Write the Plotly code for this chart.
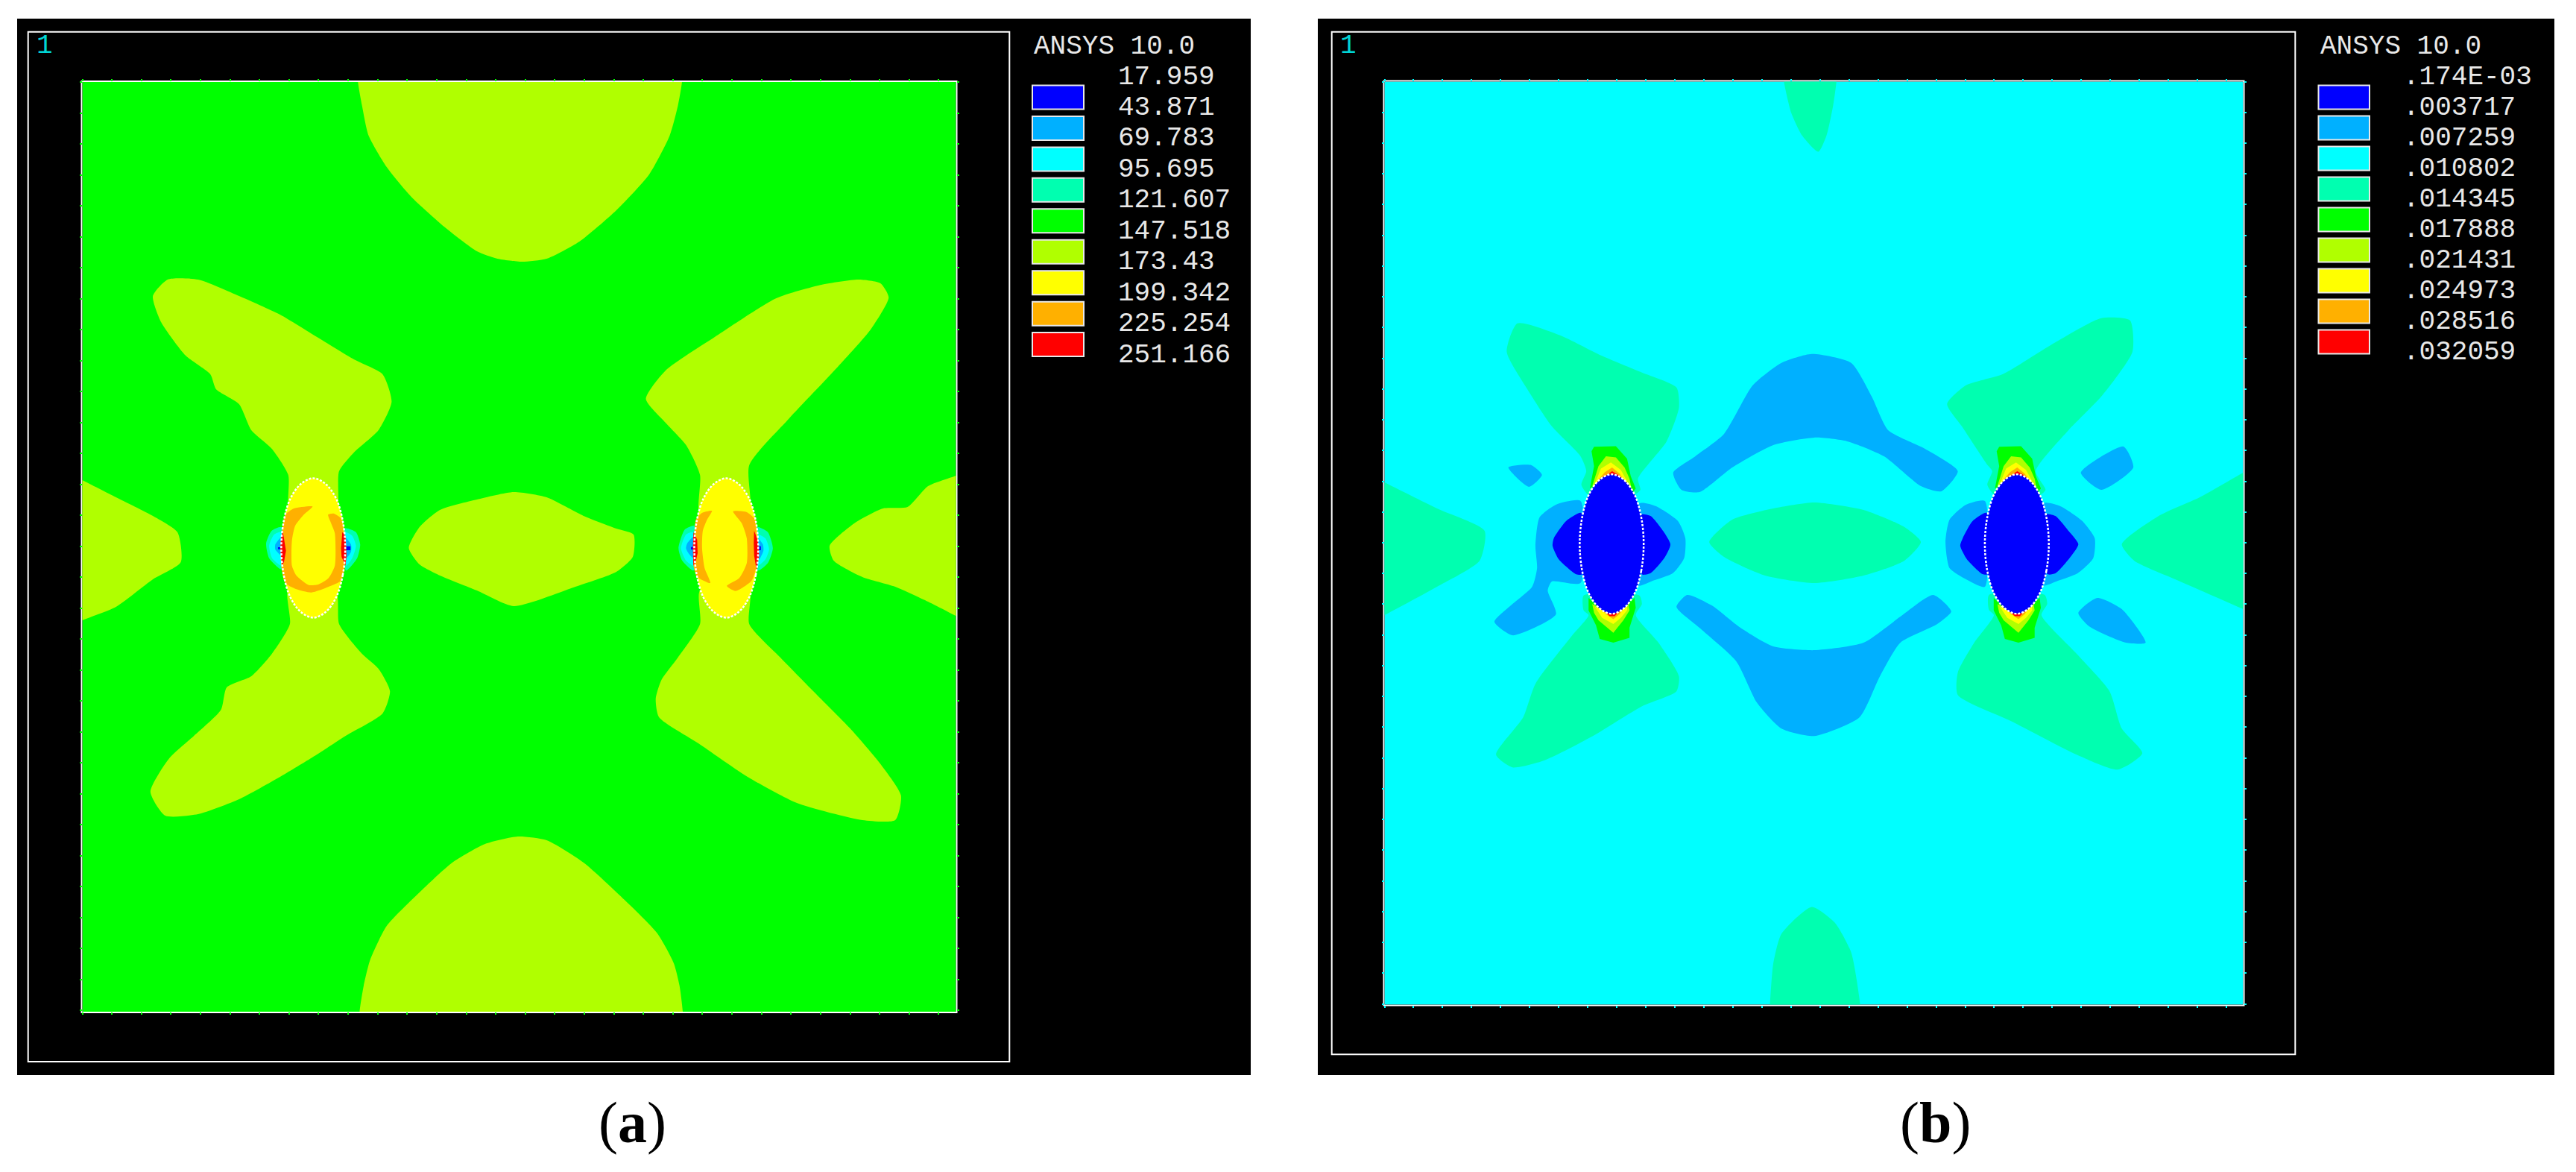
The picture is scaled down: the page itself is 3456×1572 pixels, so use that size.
import plotly.graph_objects as go

W, H = 3456, 1572

LEVEL_COLORS = ["#0000FF", "#00B0FF", "#00FFFF", "#00FFB0", "#00FF00",
                "#B0FF00", "#FFFF00", "#FFB000", "#FF0000"]
BLUE, SKY, CYAN, MINT, GREEN, LIME, YELLOW, ORANGE, RED = LEVEL_COLORS

A_LABELS = ["17.959", "43.871", "69.783", "95.695", "121.607",
            "147.518", "173.43", "199.342", "225.254", "251.166"]
B_LABELS = [".174E-03", ".003717", ".007259", ".010802", ".014345",
            ".017888", ".021431", ".024973", ".028516", ".032059"]

# ---- panel (a): contour bands, model coordinates
A_TOP = [(434,70),(435,108),(440,140),(448,180),(470,222),(500,262),(540,302),(580,335),(605,345),(635,349),(665,345),(705,322),(750,280),(790,232),(815,180),(825,140),(830,108),(831,70)]
A_BOTTOM = [(436,1395),(437,1355),(442,1320),(450,1285),(470,1240),(510,1195),(550,1155),(590,1130),(630,1120),(665,1125),(710,1155),(760,1205),(800,1250),(820,1290),(827,1320),(831,1355),(832,1395)]
A_UL = [(185,395),(203,373),(240,373),(290,395),(340,420),(385,450),(430,480),(465,500),(476,537),(460,575),(430,605),(412,630),(408,690),(352,690),(350,635),(330,600),(305,575),(290,540),(262,520),(255,500),(225,475),(195,430)]
A_LL = [(350,790),(352,835),(330,875),(305,905),(275,920),(268,950),(235,985),(205,1015),(182,1060),(200,1092),(240,1090),(290,1070),(340,1040),(385,1010),(420,985),(465,955),(474,925),(460,895),(440,875),(412,835),(408,790)]
A_UR = [(786,533),(810,495),(870,450),(945,398),(1000,380),(1045,373),(1072,378),(1082,397),(1060,440),(1020,490),(960,560),(912,622),(912,690),(852,690),(852,635),(835,595),(810,565)]
A_LR = [(852,790),(852,835),(825,880),(805,910),(798,935),(802,960),(850,995),(910,1040),(970,1075),(1050,1098),(1090,1098),(1097,1065),(1070,1020),(1035,975),(990,925),(950,880),(912,835),(912,790)]
A_CENTER = [(497,733),(510,705),(535,682),(580,668),(625,658),(665,665),(710,690),(750,707),(771,715),(770,745),(750,765),(700,785),(625,811),(580,790),(535,770),(510,755)]
A_LEFT = [(70,625),(99,642),(140,665),(185,690),(215,712),(219,752),(185,775),(140,812),(99,830),(70,845)]
A_RIGHT = [(1195,620),(1164,636),(1130,650),(1105,678),(1075,680),(1040,700),(1010,730),(1015,750),(1050,772),(1090,785),(1130,805),(1164,824),(1195,840)]

HOLE_DX = [39,36,28,15,0,-15,-28,-36,-39,-36,-28,-15,0,15,28,36,39]
HOLE_DY = [0,36,66,86,93.5,86,66,36,0,-36,-66,-86,-93.5,-86,-66,-36,0]

A_HOLE_X = [380.5, 884]
A_HOLE_Y = [733, 733]

# left hole of panel (a)
A1_ORANGE = [(379.6,677.3),(356.9,680),(346.3,688.3),(342.4,710),(341.8,760),(346.3,780),(359.9,788.3),(378.1,792.7),(399.2,785),(414.4,776.7),(418.9,756.7),(417.4,710),(414.4,693.3),(405.3,686.7),(398.6,688.3),(402.3,700),(406.8,713.3),(406.8,756.7),(399.2,773.3),(387.2,781.7),(375,782.7),(359.9,770),(354.5,756.7),(354.5,723.3),(358.4,703.3),(369,688.3)]
A1_RED_L = [(343.3,710),(346.3,733.3),(347.2,736.7),(344.8,751.7),(342.4,756.7),(340.3,733.3),(341.2,720)]
A1_RED_R = [(415.9,711.7),(419.8,716.7),(421,743.3),(419.8,756.7),(415,745),(414.4,733.3)]
A1_HALOS = [
    (MINT, [(341.8,705),(329.7,710),(323,726.7),(326.7,746.7),(341.8,761.7)]),
    (MINT, [(419,706.7),(432.5,711.7),(437.7,728.3),(434,746.7),(420.4,763.3)]),
    (CYAN, [(341.8,711.7),(332.7,715),(326.7,730),(330.3,746.7),(341.8,756.7)]),
    (CYAN, [(419,711.7),(428,716.7),(432.5,730),(428,746.7),(420.4,756.7)]),
    (SKY, [(341.8,718.3),(334.2,728.3),(334.2,735),(341.8,743.3)]),
    (SKY, [(420.4,720),(426.5,728.3),(426.5,738.3),(420.4,746.7)]),
    (BLUE, [(337.5,732),(342.4,732),(342.4,734.7),(337.5,734.7)]),
    (BLUE, [(419.8,730.7),(425.9,730.7),(425.9,736),(419.8,736)]),
]

# right hole of panel (a)
A2_ORANGE_L = [(866.6,683.3),(854.5,686),(847,695),(844.9,716.7),(844,756.7),(848.5,771.7),(864.5,780),(857.6,760),(854.5,733.3),(855.4,710),(860.6,695)]
A2_ORANGE_R = [(892.4,684),(909,685),(918,693.3),(921,710),(921,756.7),(915,776.7),(895.4,790.7),(884.8,784),(899.9,773.3),(909,753.3),(909,720),(903,700)]
A2_RED_L = [(844,711.7),(848.5,721.7),(849.1,740),(847,750),(844,756.7),(843.3,733.3)]
A2_RED_R = [(918,710),(922.6,723.3),(924.1,743.3),(921,763.3),(918,743.3),(917.5,726.7)]
A2_HALOS = [
    (MINT, [(845.5,703.3),(833.4,708.3),(825.8,733.3),(830.3,750),(844,763.3)]),
    (MINT, [(921,705),(934.7,711.7),(940.8,733.3),(934.7,753.3),(922.6,763.3)]),
    (CYAN, [(844,711.7),(834.9,715),(828.8,733.3),(834.9,750),(844,756.7)]),
    (CYAN, [(922.6,715),(931.7,720),(936.2,735),(931.7,748.3),(922.6,756.7)]),
    (SKY, [(844,718.3),(836.4,726.7),(834.9,733.3),(837.9,740),(844,746.7)]),
    (SKY, [(922.6,720),(928.7,728.3),(929.3,736.7),(924.1,748.3)]),
    (BLUE, [(840.9,731.7),(844.6,731.7),(844.6,735),(840.9,735)]),
    (BLUE, [(922.6,730.7),(926.2,730.7),(926.2,736),(922.6,736)]),
]

# ---- panel (b): contour bands, model coordinates
B_TOP = [(600,70),(603,108),(612,150),(625,180),(645,202),(655,180),(663,140),(667,108),(668,70)]
B_BOTTOM = [(584,1385),(586,1345),(590,1290),(600,1250),(637,1214),(665,1235),(685,1275),(696,1345),(698,1385)]
B_LEFT = [(80,625),(116,645),(180,680),(238,710),(232,750),(180,785),(116,823),(80,843)]
B_RIGHT = [(1200,610),(1163,632),(1110,665),(1060,690),(1015,728),(1030,750),(1080,775),(1163,815),(1200,835)]
B_CENTER = [(512,725),(540,695),(590,680),(640,672),(700,682),(750,705),(770,725),(750,750),(700,770),(640,780),(580,770),(530,745)]
B_UL = [(278,432),(330,448),(380,475),(430,498),(472,518),(475,545),(460,590),(425,640),(428,655),(420,662),(365,662),(356,648),(362,630),(355,610),(320,570),(290,520),(265,470)]
B_LL = [(358.8,796.7),(358.8,816.7),(364.8,823),(345,850),(300,915),(285,960),(252,1010),(272,1027),(310,1018),(370,985),(430,945),(472,925),(475,905),(450,860),(422.3,823),(429.8,808.3),(426.8,796.7)]
B_UR = [(802,540),(825,515),(870,500),(930,460),(990,425),(1025,428),(1028,470),(990,530),(950,575),(910,630),(922,655),(915,662),(860,662),(851,648),(857,630),(850,620),(820,570)]
B_LR = [(853,796),(853,816),(859,823),(835,860),(815,900),(815,930),(880,965),(960,1010),(1010,1030),(1040,1008),(1015,975),(1000,925),(960,875),(917,823),(924,808),(921,796)]

B_SKY_UP = [(468,632),(495,610),(530,580),(565,515),(600,485),(637,473),(685,485),(710,530),(730,575),(775,600),(815,630),(795,657),(770,650),(725,610),(680,590),(640,585),(590,595),(540,625),(500,658),(478,655)]
B_SKY_DOWN = [(472,812),(485,796),(515,810),(550,840),(590,865),(640,870),(700,860),(745,825),(785,796),(807,818),(790,835),(745,860),(720,905),(695,960),(640,985),(600,975),(570,940),(545,885),(500,840)]
B_SKY_S1 = [(267,625),(295,622),(308,635),(292,651)]
B_SKY_S2 = [(965,632),(1017,597),(1029,625),(990,655)]
B_SKY_S3 = [(962,820),(985,800),(1015,815),(1044,860),(1020,860),(975,838)]
B_SKY_H1L = [(355,670),(325,675),(305,692),(300,730),(302,760),(296,785),(270,810),(250,832),(272,850),(325,822),(315,790),(320,778),(355,780)]
B_SKY_H1R = [(426.8,673.3),(446.5,676.7),(473.7,696.7),(482.8,720),(481.3,746.7),(467.7,766.7),(443.5,776.7),(425.3,783.3)]
B_SKY_H2L = [(848,670),(825,675),(805,695),(800,725),(805,760),(825,775),(848,785)]
B_SKY_H2R = [(920,673),(940,677),(967,697),(982,720),(980,747),(961,767),(937,777),(919,783)]
B_BLUE_H1L = [(355.7,686),(337.6,696.7),(322.4,720),(320.9,730),(328.5,748.3),(349.7,768.3),(357.2,768.3)]
B_BLUE_H1R = [(428.3,688.3),(440.4,690),(455.6,710),(464.6,728.3),(457,746.7),(440.4,766.7),(429.8,768.3)]
B_BLUE_H2L = [(850,686),(833,697),(821,720),(818,730),(826,748),(845,768),(852,768)]
B_BLUE_H2R = [(922,688),(934,690),(950,710),(962,728),(951,747),(934,767),(924,768)]

B_HOLE_X = [393, 887]
B_HOLE_Y = [727.7, 727.7]
B_HOT_SHIFT = [0, 494]
B_HOT_TOP = [
    (GREEN, [(366.3,653.3),(371.5,623.3),(368.4,603.3),(371.5,597.3),(398.1,596.7),(411.7,613.3),(416.2,636.7),(422.3,653.3),(417.7,660),(392,636.7)]),
    (LIME, [(369.3,650),(376.9,623.3),(386,610),(398.1,611.7),(408.7,625),(414.7,640),(417.7,656.7),(395,635)]),
    (YELLOW, [(372.4,646.7),(379.9,626.7),(392,618.3),(404.1,628.3),(411.7,643.3),(414.7,651.7),(395,636)]),
    (ORANGE, [(375.4,643.3),(384.5,631.7),(393.5,625),(402.6,633.3),(408.7,643.3),(395,636)]),
    (RED, [(383,638.3),(393.5,630),(401.1,635),(407.2,641.7),(395,636)]),
]
B_HOT_BOTTOM = [
    (GREEN, [(364.8,800),(371.5,806.7),(393.5,819.3),(413.2,806.7),(420.8,800),(422.3,813.3),(414.7,840),(414.7,853.3),(395,860),(378.4,855),(373.9,836.7),(364.8,816.7)]),
    (LIME, [(369.3,808.3),(393.5,820.7),(413.2,806.7),(414.7,816.7),(407.2,830),(395,846.7),(376.9,830),(371.5,820)]),
    (YELLOW, [(372.4,811.7),(393.5,820.7),(411.7,808.3),(411.7,816.7),(404.1,826.7),(395,835),(381.4,826.7)]),
    (ORANGE, [(378.4,813.3),(393.5,820.7),(408.7,811.7),(402.6,821.7),(395,828.3),(386,821.7)]),
    (RED, [(383,816.7),(393.5,820.7),(404.1,816),(396.6,824.3),(390.5,824.3)]),
]

A_RANGE_X, A_RANGE_Y = [99, 1164], [1355, 108]
B_RANGE_X, B_RANGE_Y = [116, 1163], [1345, 108]

# ---- layout constants (pixels in the page)
A_PLOT = dict(x0=110.5, x1=1282.5, y0=110, y1=1357)
B_PLOT = dict(x0=1857.5, x1=3009.5, y0=109.5, y1=1347.5)
A_BLACK = (23, 25, 1678, 1442)
B_BLACK = (1768, 25, 3427, 1442)
A_FRAME = (37.7, 42.7, 1354.3, 1424)
B_FRAME = (1786.7, 42.7, 3079.3, 1414.3)
MONO = "Liberation Mono"
TXT = "#E8E8E8"


def px(x):
    return x / W


def py(y):
    return 1 - y / H


def poly(fig, pts, color, ax, smooth=0.0):
    line = dict(width=0, color=color)
    if smooth:
        line.update(shape="spline", smoothing=smooth)
    fig.add_trace(go.Scatter(
        x=[p[0] for p in pts] + [pts[0][0]],
        y=[p[1] for p in pts] + [pts[0][1]],
        mode="lines", fill="toself", fillcolor=color,
        line=line, hoverinfo="skip", showlegend=False,
        xaxis=ax[0], yaxis=ax[1]))


def shifted(pts, dx):
    return [(p[0] + dx, p[1]) for p in pts]


def hole(fig, cx, cy, color, ax):
    fig.add_trace(go.Scatter(
        x=[cx + d for d in HOLE_DX], y=[cy + d for d in HOLE_DY],
        mode="lines", fill="toself", fillcolor=color,
        line=dict(width=0, color=color, shape="spline", smoothing=1), hoverinfo="skip",
        showlegend=False, xaxis=ax[0], yaxis=ax[1]))


def outline(fig, cx, cy, ax):
    fig.add_trace(go.Scatter(
        x=[cx + d for d in HOLE_DX], y=[cy + d for d in HOLE_DY], mode="lines",
        line=dict(width=2.5, color="#FFFFFF", dash="3px,2px", shape="spline", smoothing=1),
        hoverinfo="skip", showlegend=False, xaxis=ax[0], yaxis=ax[1]))


fig = go.Figure()
AX_A = ("x", "y")
AX_B = ("x2", "y2")
SM = 0.6

# panel a
poly(fig, [(A_RANGE_X[0], A_RANGE_Y[1]), (A_RANGE_X[1], A_RANGE_Y[1]),
           (A_RANGE_X[1], A_RANGE_Y[0]), (A_RANGE_X[0], A_RANGE_Y[0])], GREEN, AX_A)
for region in (A_TOP, A_BOTTOM, A_UL, A_LL, A_UR, A_LR, A_CENTER, A_LEFT, A_RIGHT):
    poly(fig, region, LIME, AX_A, SM)
for color, pts in A1_HALOS + A2_HALOS:
    poly(fig, pts, color, AX_A, SM if color != BLUE else 0)
for cx, cy in zip(A_HOLE_X, A_HOLE_Y):
    hole(fig, cx, cy, YELLOW, AX_A)
poly(fig, A1_ORANGE, ORANGE, AX_A, SM)
poly(fig, A2_ORANGE_L, ORANGE, AX_A, SM)
poly(fig, A2_ORANGE_R, ORANGE, AX_A, SM)
for region in (A1_RED_L, A1_RED_R, A2_RED_L, A2_RED_R):
    poly(fig, region, RED, AX_A)
for cx, cy in zip(A_HOLE_X, A_HOLE_Y):
    outline(fig, cx, cy, AX_A)

# panel b
poly(fig, [(B_RANGE_X[0], B_RANGE_Y[1]), (B_RANGE_X[1], B_RANGE_Y[1]),
           (B_RANGE_X[1], B_RANGE_Y[0]), (B_RANGE_X[0], B_RANGE_Y[0])], CYAN, AX_B)
for region in (B_TOP, B_BOTTOM, B_LEFT, B_RIGHT, B_CENTER, B_UL, B_LL, B_UR, B_LR):
    poly(fig, region, MINT, AX_B, SM)
for region in (B_SKY_UP, B_SKY_DOWN, B_SKY_S1, B_SKY_S2, B_SKY_S3,
               B_SKY_H1L, B_SKY_H1R, B_SKY_H2L, B_SKY_H2R):
    poly(fig, region, SKY, AX_B, SM)
for region in (B_BLUE_H1L, B_BLUE_H1R, B_BLUE_H2L, B_BLUE_H2R):
    poly(fig, region, BLUE, AX_B, SM)
for shift in B_HOT_SHIFT:
    for color, pts in B_HOT_TOP + B_HOT_BOTTOM:
        poly(fig, shifted(pts, shift), color, AX_B)
for cx, cy in zip(B_HOLE_X, B_HOLE_Y):
    hole(fig, cx, cy, BLUE, AX_B)
    outline(fig, cx, cy, AX_B)


def axis(rng, dom, dtick, tick0, anchor, color):
    return dict(range=rng, domain=dom, showgrid=False, zeroline=False,
                showticklabels=False, ticks="outside", ticklen=3, tickwidth=1.5,
                tickcolor=color, tick0=tick0, dtick=dtick, showline=False,
                mirror="ticks", anchor=anchor)


shapes = []
annots = []


def rect(box, fill=None, line="#FFFFFF", lw=2, layer="below"):
    x0, y0, x1, y1 = box
    shapes.append(dict(type="rect", xref="paper", yref="paper", layer=layer,
                       x0=px(x0), x1=px(x1), y0=py(y0), y1=py(y1),
                       fillcolor=fill or "rgba(0,0,0,0)",
                       line=dict(color=line, width=lw)))


def text(t, x, y, size=36, color=TXT, font=MONO, xanchor="left"):
    annots.append(dict(text=t, x=px(x), y=py(y), xref="paper", yref="paper",
                       xanchor=xanchor, yanchor="middle", showarrow=False,
                       font=dict(family=font, size=size, color=color)))


rect(A_BLACK, fill="#000000", line="#000000", lw=0)
rect(B_BLACK, fill="#000000", line="#000000", lw=0)
rect(A_FRAME)
rect(B_FRAME)
for plot in (A_PLOT, B_PLOT):
    rect((plot["x0"] - 1, plot["y0"] - 1, plot["x1"] + 1, plot["y1"] + 1))

for labels, sw_x0, sw_x1, txt_x, ans_x, one_x, y_first, pitch in (
        (A_LABELS, 1385, 1454, 1498, 1385, 47, 103, 41.45),
        (B_LABELS, 3110.5, 3179, 3222, 3110.5, 1796, 103, 41.0)):
    text("ANSYS 10.0", ans_x, 62)
    text("1", one_x, 61, size=36, color="#00D5D5")
    for i, lab in enumerate(labels):
        text(lab, txt_x, y_first + i * pitch)
    for i, col in enumerate(LEVEL_COLORS):
        yc = y_first + 27.5 + i * pitch
        rect((sw_x0, yc - 16, sw_x1, yc + 16), fill=col, line="#E8E8E8", lw=2, layer="above")

text("(<b>a</b>)", 848, 1505, size=78, color="#000000", font="Liberation Serif", xanchor="center")
text("(<b>b</b>)", 2596, 1505, size=78, color="#000000", font="Liberation Serif", xanchor="center")

fig.update_layout(
    width=W, height=H, margin=dict(l=0, r=0, t=0, b=0, autoexpand=False),
    paper_bgcolor="#FFFFFF", plot_bgcolor="rgba(0,0,0,0)", showlegend=False,
    shapes=shapes, annotations=annots,
    xaxis=axis(A_RANGE_X, [px(A_PLOT["x0"]), px(A_PLOT["x1"])], 36.0, 99, "y", GREEN),
    yaxis=axis(A_RANGE_Y, [py(A_PLOT["y1"]), py(A_PLOT["y0"])], 41.5, 108, "x", GREEN),
    xaxis2=axis(B_RANGE_X, [px(B_PLOT["x0"]), px(B_PLOT["x1"])], 35.4, 116, "y2", CYAN),
    yaxis2=axis(B_RANGE_Y, [py(B_PLOT["y1"]), py(B_PLOT["y0"])], 41.2, 108, "x2", CYAN),
)

fig.write_html("out.html", config={"displayModeBar": False},
               post_script="document.body.style.margin='0';document.body.style.overflow='hidden';")
